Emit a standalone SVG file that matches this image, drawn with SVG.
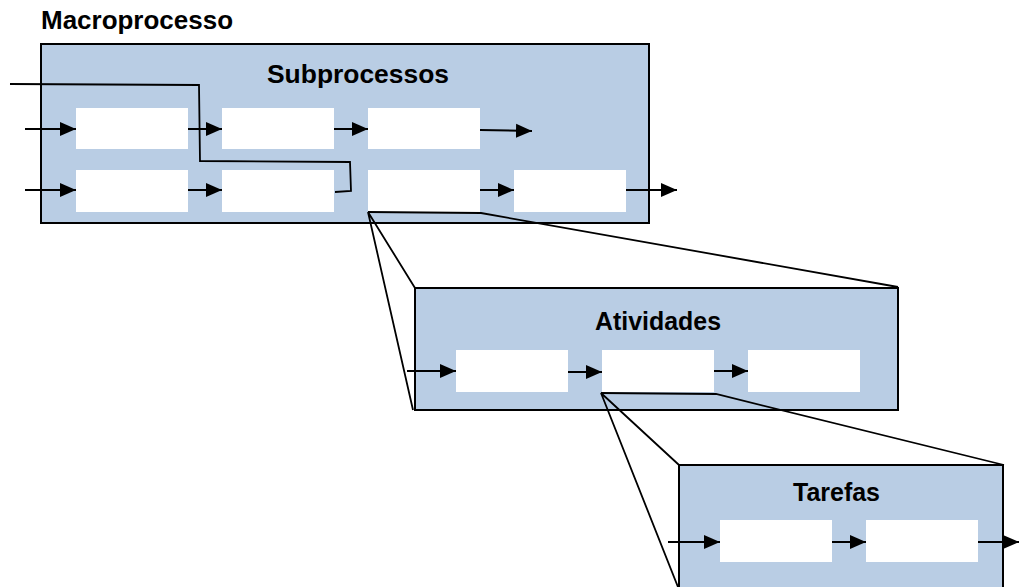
<svg xmlns="http://www.w3.org/2000/svg" width="1019" height="587" viewBox="0 0 1019 587">
  <style>
    .frame { fill: #b9cde4; stroke: #000; stroke-width: 2; }
    .step { fill: #fff; }
    .flow { fill: none; stroke: #000; stroke-width: 2; marker-end: url(#arrow); }
    .line { fill: none; stroke: #000; stroke-width: 1.8; }
    .title { font-family: "Liberation Sans", Arial, sans-serif; font-weight: bold; font-size: 25px; fill: #000; }
  </style>
  <defs>
    <marker id="arrow" viewBox="0 0 16 14" refX="16" refY="7" markerWidth="16" markerHeight="15" markerUnits="userSpaceOnUse" orient="auto">
      <path d="M0,0 L16,7 L0,14 Z" fill="#000"/>
    </marker>
  </defs>

  <rect width="1019" height="587" fill="#fff"/>

  <text class="title" x="41" y="29" textLength="192" lengthAdjust="spacingAndGlyphs">Macroprocesso</text>

  <!-- Level 1: subprocesses -->
  <g id="subprocessos">
    <rect class="frame" x="41" y="44" width="608" height="179"/>
    <text class="title" x="267" y="83" textLength="182" lengthAdjust="spacingAndGlyphs">Subprocessos</text>
    <rect class="step" id="sp1" x="76" y="108" width="112" height="41"/>
    <rect class="step" id="sp2" x="222" y="108" width="112" height="41"/>
    <rect class="step" id="sp3" x="368" y="108" width="112" height="41"/>
    <rect class="step" id="sp4" x="76" y="170" width="112" height="42"/>
    <rect class="step" id="sp5" x="222" y="170" width="112" height="42"/>
    <rect class="step" id="sp6" x="368" y="170" width="112" height="42"/>
    <rect class="step" id="sp7" x="514" y="170" width="112" height="42"/>
  </g>

  <!-- Level 2: activities -->
  <g id="atividades">
    <rect class="frame" x="415" y="288" width="483" height="122"/>
    <text class="title" x="595" y="330" textLength="126" lengthAdjust="spacingAndGlyphs">Atividades</text>
    <rect class="step" id="at1" x="456" y="350" width="112" height="42"/>
    <rect class="step" id="at2" x="602" y="350" width="112" height="42"/>
    <rect class="step" id="at3" x="748" y="350" width="112" height="42"/>
  </g>

  <!-- Level 3: tasks -->
  <g id="tarefas">
    <rect class="frame" x="679" y="465" width="324" height="140"/>
    <text class="title" x="793" y="501" textLength="87" lengthAdjust="spacingAndGlyphs">Tarefas</text>
    <rect class="step" id="ta1" x="720" y="520" width="112" height="42"/>
    <rect class="step" id="ta2" x="866" y="520" width="112" height="42"/>
  </g>

  <g id="connectors">
    <!-- subprocess flows -->
    <line class="flow" x1="25" y1="129" x2="76" y2="129"/>
    <line class="flow" x1="188" y1="129" x2="222" y2="129"/>
    <line class="flow" x1="334" y1="129" x2="368" y2="129"/>
    <line class="flow" x1="480" y1="130" x2="532" y2="131"/>
    <line class="flow" x1="25" y1="190" x2="76" y2="190"/>
    <line class="flow" x1="188" y1="190" x2="222" y2="190"/>
    <line class="flow" x1="480" y1="190" x2="514" y2="190"/>
    <line class="flow" x1="626" y1="190" x2="677" y2="190"/>
    <!-- crossing feed line -->
    <polyline class="line" points="10,84 199,85 200,161 350,162 351,191 335,192"/>

    <!-- zoom from subprocess to activities -->
    <polyline class="line" points="415,288 368,212 413,410"/>
    <polyline class="line" points="368,212 481,213 898,287"/>

    <!-- activity flows -->
    <line class="flow" x1="407" y1="371" x2="456" y2="371"/>
    <line class="flow" x1="568" y1="372" x2="602" y2="372"/>
    <line class="flow" x1="714" y1="371" x2="748" y2="371"/>

    <!-- zoom from activity to tasks -->
    <polyline class="line" points="679,465 601,393 678,587"/>
    <polyline class="line" points="601,393 716,394 1004,465"/>

    <!-- task flows -->
    <line class="flow" x1="668" y1="542" x2="720" y2="542"/>
    <line class="flow" x1="832" y1="542" x2="866" y2="542"/>
    <line class="flow" x1="978" y1="542" x2="1019" y2="542"/>
  </g>
</svg>
